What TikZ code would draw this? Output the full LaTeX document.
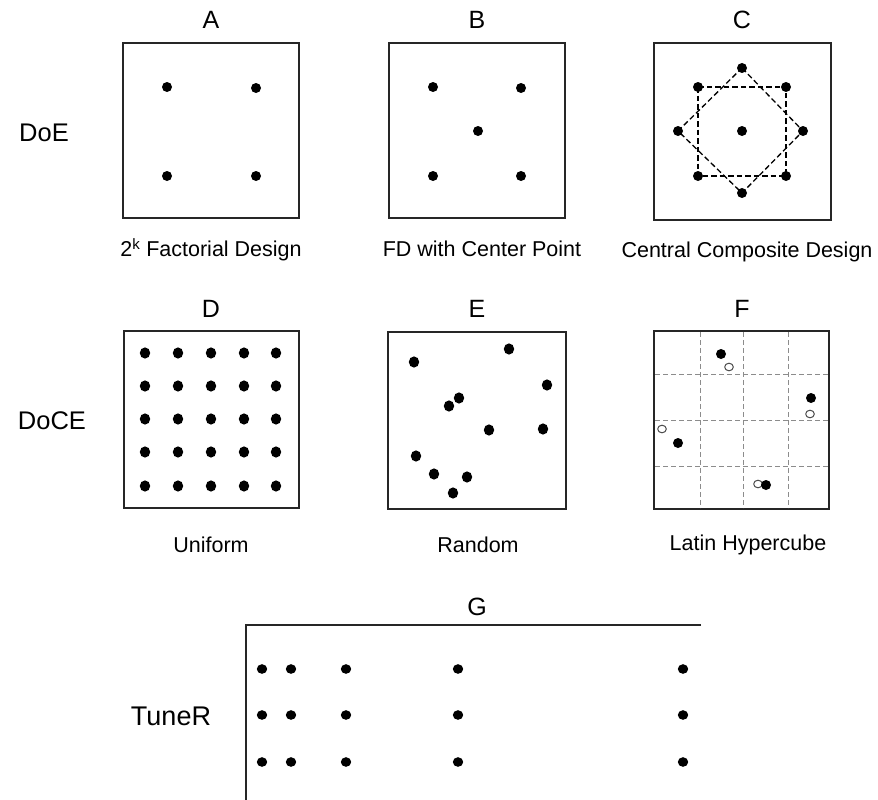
\documentclass[tikz,border=0pt]{standalone}
\usepackage{fontspec}
\setmainfont{Liberation Sans}
\begin{document}
\begin{tikzpicture}[x=1pt,y=-1pt,
  frame/.style={draw=black!85,line width=1.3pt},
  fdot/.style={fill=black},
  odot/.style={draw=black!70,fill=white,line width=1pt},
  gridline/.style={draw=black!45,line width=1pt,dash pattern=on 5pt off 3pt},
  ccdline/.style={draw=black,line width=1.3pt,dash pattern=on 5.5pt off 3pt},
  captext/.style={font=\fontsize{21.5}{25}\selectfont},
  lettertext/.style={font=\fontsize{25}{28}\selectfont},
  rowlab/.style={font=\fontsize{25.5}{29}\selectfont}]
\useasboundingbox (0,0) rectangle (878,800);
% frames
\draw[frame] (123,43) rectangle (299,218);
\draw[frame] (389,43) rectangle (565,218);
\draw[frame] (654,43) rectangle (831,220);
\draw[frame] (124,331) rectangle (299,508);
\draw[frame] (388,332) rectangle (566,509);
\draw[frame] (654,331) rectangle (829,509);
\draw[frame] (701,625) -- (246,625) -- (246,800);
% letters
\node[lettertext] (la) at (211,20) {A};
\node[lettertext] (lb) at (477,20) {B};
\node[lettertext] (lc) at (742,20) {C};
\node[lettertext] (ld) at (211,309) {D};
\node[lettertext] (le) at (477,309) {E};
\node[lettertext] (lf) at (742,309) {F};
\node[lettertext] (lg) at (477,607) {G};
% row labels
\node[rowlab] (doe) at (44,133) {DoE};
\node[rowlab] (doce) at (52,421) {DoCE};
\node[rowlab,font=\fontsize{27}{31}\selectfont] (tuner) at (171,716) {TuneR};
% captions
\node[captext] (ca) at (211,250) {2\textsuperscript{k} Factorial Design};
\node[captext] (cb) at (482,249) {FD with Center Point};
\node[captext] (cc) at (747,252) {Central Composite Design};
\node[captext] (cd) at (211,545) {Uniform};
\node[captext] (ce) at (478,545) {Random};
\node[captext] (cf) at (748,545) {Latin Hypercube};
% A
\foreach \p in {(167,87),(256,88),(167,176),(256,176)} \fill[fdot] \p circle (5);
% B
\foreach \p in {(433,87),(521,88),(478,131),(433,176),(521,176)} \fill[fdot] \p circle (5);
% C
\draw[ccdline] (698,87) rectangle (786,176);
\draw[ccdline] (742,68) -- (803,131) -- (742,193) -- (678,131) -- cycle;
\foreach \p in {(742,68),(698,87),(786,87),(678,131),(742,131),(803,131),(698,176),(786,176),(742,193)} \fill[fdot] \p circle (5);
% D
\foreach \x in {145,178,211,244,276}
  \foreach \y in {353,386,419,452,486}
    \fill[fdot] (\x,\y) ellipse (5.2 and 5.6);
% E
\foreach \p in {(414,362),(509,349),(547,385),(459,398),(449,406),(489,430),(543,429),(416,456),(434,474),(467,477),(453,493)} \fill[fdot] \p ellipse (5.2 and 5.6);
% F
\foreach \x in {700,743,788} \draw[gridline] (\x,332) -- (\x,508);
\foreach \y in {374,420,466} \draw[gridline] (655,\y) -- (828,\y);
\foreach \p in {(729,367),(810,414),(662,429),(758,484)} \draw[odot] \p ellipse (4.3 and 3.8);
\foreach \p in {(721,354),(811,398),(678,443),(766,485)} \fill[fdot] \p circle (5);
% G
\foreach \x in {262,291,346,458,683}
  \foreach \y in {669,715,762}
    \fill[fdot] (\x,\y) ellipse (5.2 and 4.8);
\end{tikzpicture}
\end{document}
